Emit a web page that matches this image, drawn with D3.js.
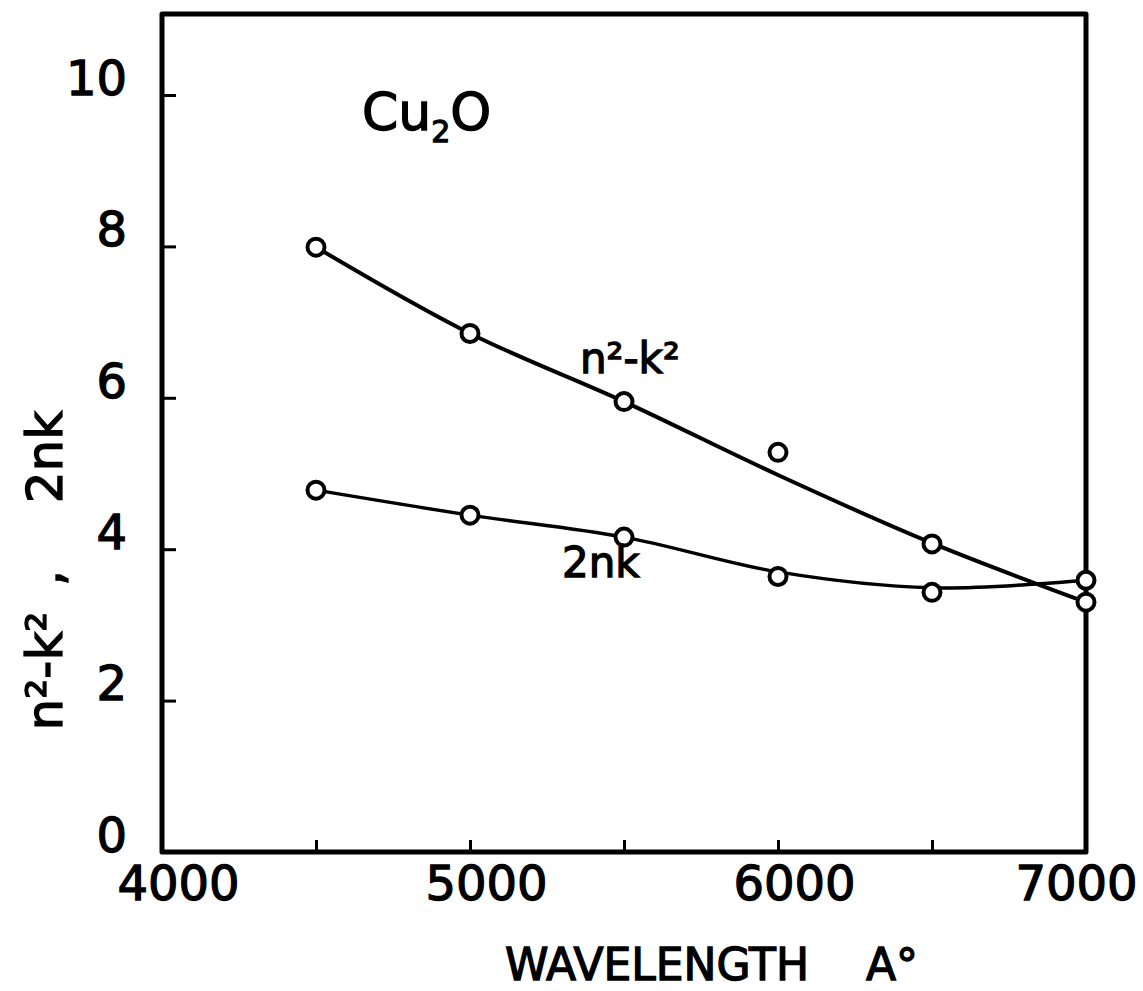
<!DOCTYPE html>
<html>
<head>
<meta charset="utf-8">
<script src="https://cdn.jsdelivr.net/npm/d3@7"></script>
<style>
  body { margin: 0; background: #fff; }
  svg { display: block; }
  text { font-family: 'DejaVu Sans', sans-serif; fill: #000; stroke: #000; stroke-width: 1.3px; }
</style>
</head>
<body>
<div id="chart"></div>
<script>
/***********************************************************************/
//Data
/***********************************************************************/
const wavelengths = [4500, 5000, 5500, 6000, 6500, 7000]
// measured points (circles)
const n2k2Points = [7.99, 6.85, 5.95, 5.28, 4.07, 3.30]
const twoNkPoints = [4.78, 4.45, 4.16, 3.64, 3.43, 3.59]
// hand drawn smooth curves, read at the same wavelengths
const n2k2Curve = [7.99, 6.85, 5.95, 4.98, 4.08, 3.30]
const twoNkCurve = [4.78, 4.45, 4.16, 3.70, 3.49, 3.59]

const xTickMarks = [4000, 4500, 5000, 5500, 6000, 6500, 7000]
const xTickLabels = [4000, 5000, 6000, 7000]
const yTicks = [0, 2, 4, 6, 8, 10]

/***********************************************************************/
//Plot Area
/***********************************************************************/
const width = 1143
const height = 991
const plot = { left : 162, right : 1086, top : 14, bottom : 852 }
const yMax = 11.07

const svg = d3.select('#chart')
  .append('svg')
  .attr('width', width)
  .attr('height', height)

svg.append('rect')
  .attr('width', width)
  .attr('height', height)
  .attr('fill', '#fff')

/***********************************************************************/
//Scale
/***********************************************************************/
const xScale = d3.scaleLinear()
  .domain([4000, 7000])
  .range([plot.left, plot.right])

const yScale = d3.scaleLinear()
  .domain([0, yMax])
  .range([plot.bottom, plot.top])

/***********************************************************************/
//Axes
/***********************************************************************/
const xAxis = d3.axisBottom(xScale)
  .tickValues(xTickMarks)
  .tickSize(-12)
  .tickPadding(14)
  .tickFormat(d => xTickLabels.includes(d) ? d : '')

const yAxis = d3.axisLeft(yScale)
  .tickValues(yTicks)
  .tickSize(-14)
  .tickPadding(35)
  .tickFormat(d => d)

const xAxisG = svg.append('g').attr('class', 'axis')
  .attr('transform', 'translate(0,' + plot.bottom + ')')
  .call(xAxis)

const yAxisG = svg.append('g').attr('class', 'axis')
  .attr('transform', 'translate(' + plot.left + ',0)')
  .call(yAxis)

svg.selectAll('.axis .domain').remove()
svg.selectAll('.axis line')
  .attr('stroke', '#000')
  .attr('stroke-width', 3)

// hand lettered labels sit a bit right of their ticks, the last one pulled in
xAxisG.selectAll('text')
  .style('font-size', '48px')
  .attr('dx', d => d === 7000 ? -10 : 16)

yAxisG.selectAll('text')
  .style('font-size', '48px')
  .attr('dy', '0.32em')
  .attr('y', -16)

// frame
svg.append('rect')
  .attr('x', plot.left)
  .attr('y', plot.top)
  .attr('width', plot.right - plot.left)
  .attr('height', plot.bottom - plot.top)
  .attr('fill', 'none')
  .attr('stroke', '#000')
  .attr('stroke-width', 5)
  .attr('stroke-linejoin', 'round')

/***********************************************************************/
// Plotting
/***********************************************************************/
const line = d3.line()
  .curve(d3.curveCatmullRom.alpha(0.5))
  .x(d => xScale(d[0]))
  .y(d => yScale(d[1]))

const series = [
  { curve : n2k2Curve, points : n2k2Points, width : 4 },
  { curve : twoNkCurve, points : twoNkPoints, width : 3.4 }
]

series.forEach(s => {
  svg.append('path')
    .datum(wavelengths.map((w, i) => [w, s.curve[i]]))
    .attr('fill', 'none')
    .attr('stroke', '#000')
    .attr('stroke-width', s.width)
    .attr('stroke-linejoin', 'round')
    .attr('stroke-linecap', 'round')
    .attr('d', line)
})

series.forEach(s => {
  svg.append('g')
    .selectAll('circle')
    .data(wavelengths.map((w, i) => [w, s.points[i]]))
    .join('circle')
    .attr('cx', d => xScale(d[0]))
    .attr('cy', d => yScale(d[1]))
    .attr('r', 8.5)
    .attr('fill', '#fff')
    .attr('stroke', '#000')
    .attr('stroke-width', 4)
})

/***********************************************************************/
// Labels
/***********************************************************************/
const cu = svg.append('text')
  .attr('x', 362)
  .attr('y', 130)
  .style('font-size', '52px')
cu.append('tspan').text('Cu')
cu.append('tspan').attr('dy', 12).style('font-size', '30px').text('2')
cu.append('tspan').attr('dy', -12).text('O')

svg.append('text')
  .attr('x', 580)
  .attr('y', 373)
  .style('font-size', '42px')
  .text('n²-k²')

svg.append('text')
  .attr('x', 562)
  .attr('y', 577)
  .style('font-size', '42px')
  .text('2nk')

// y title, rotated pieces
const yTitle = [
  { t : 'n²-k²', y : 671 },
  { t : ',', y : 578 },
  { t : '2nk', y : 457 }
]
yTitle.forEach(d => {
  svg.append('text')
    .attr('transform', `translate(62,${d.y}) rotate(-90)`)
    .attr('text-anchor', 'middle')
    .style('font-size', '50px')
    .text(d.t)
})

svg.append('text')
  .attr('x', 505)
  .attr('y', 980)
  .style('font-size', '44px')
  .text('WAVELENGTH')

svg.append('text')
  .attr('x', 866)
  .attr('y', 980)
  .style('font-size', '44px')
  .text('A°')
</script>
</body>
</html>
